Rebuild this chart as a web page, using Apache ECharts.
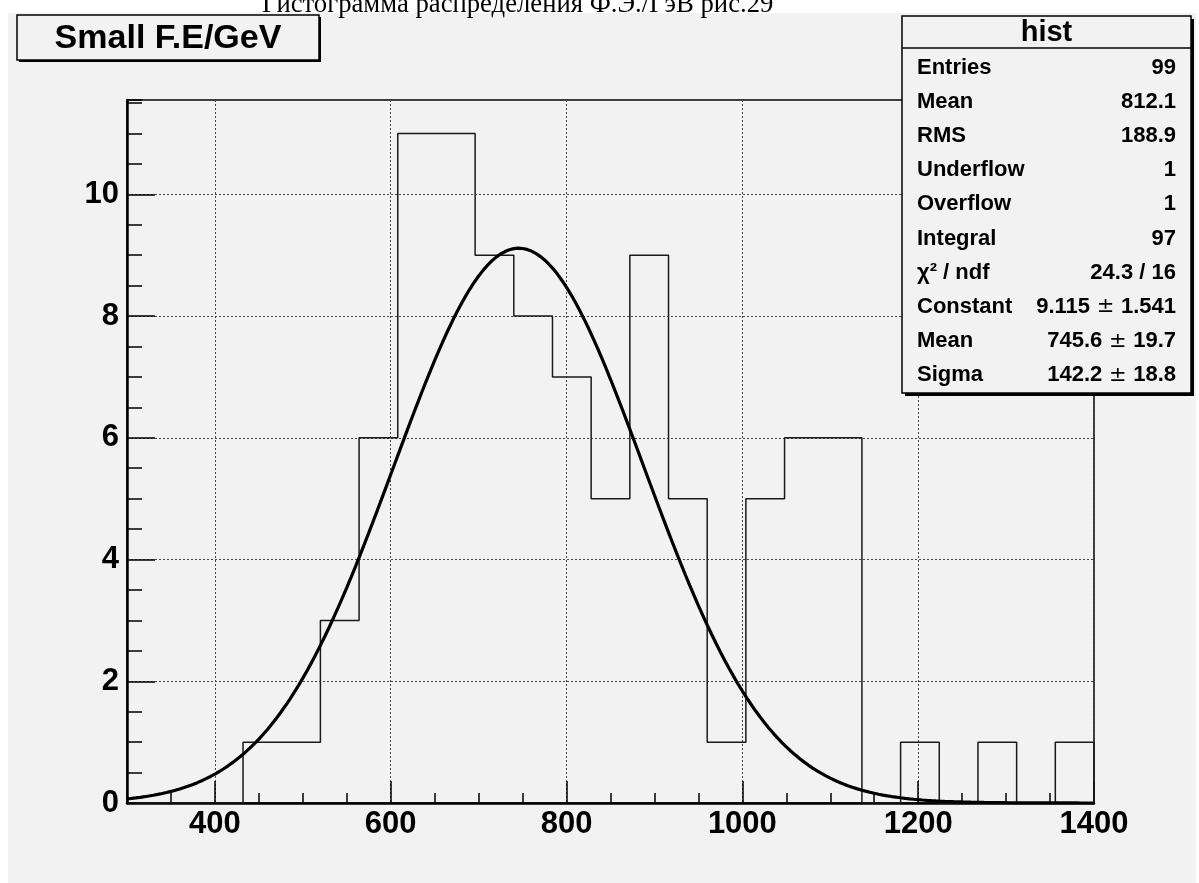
<!DOCTYPE html>
<html>
<head>
<meta charset="utf-8">
<script src="https://cdn.jsdelivr.net/npm/echarts@6/dist/echarts.min.js"></script>
<style>
  html, body { margin: 0; padding: 0; background: #ffffff; }
  #wrap { position: relative; width: 1199px; height: 883px; background: #ffffff; overflow: hidden; }
  #pad { position: absolute; left: 8px; top: 13px; width: 1188px; height: 870px; background: #f2f2f2; }
  #chart { position: absolute; left: 0; top: 0; width: 1199px; height: 883px; }
</style>
</head>
<body>
<div id="wrap">
  <div id="pad"></div>
  <div id="chart"></div>
</div>
<script>
// Histogram binning: 25 bins of width 44 over [300, 1400]
const binEdges = [300, 344, 388, 432, 476, 520, 564, 608, 652, 696, 740, 784, 828, 872,
                  916, 960, 1004, 1048, 1092, 1136, 1180, 1224, 1268, 1312, 1356, 1400];
const binCounts = [0, 0, 0, 1, 1, 3, 6, 11, 11, 9, 8, 7, 5, 9, 5, 1, 5, 6, 6, 0, 1, 0, 1, 0, 1];

// Gaussian fit parameters
const fitConstant = 9.115;
const fitMean = 745.6;
const fitSigma = 142.2;

// Axis ticks and labels
const xMajorTicks = [400, 600, 800, 1000, 1200, 1400];
const xRange = [300, 1400];
const yRange = [0, 11.55];

// Texts
const pageTitle = 'Гистограмма распределения Ф.Э./ГэВ рис.29';
const histTitle = 'Small F.E/GeV';
const statsName = 'hist';
const statLabels = ['Entries', 'Mean', 'RMS', 'Underflow', 'Overflow', 'Integral',
                    'χ² / ndf', 'Constant', 'Mean', 'Sigma'];
const statValues = ['99', '812.1', '188.9', '1', '1', '97',
                    '24.3 / 16', ['9.115', '1.541'], ['745.6', '19.7'], ['142.2', '18.8']];

// Step outline of the histogram
const histOutline = [[binEdges[0], 0]];
for (let i = 0; i < binCounts.length; i++) {
  histOutline.push([binEdges[i], binCounts[i]]);
  histOutline.push([binEdges[i + 1], binCounts[i]]);
}
histOutline.push([binEdges[binEdges.length - 1], 0]);

// Fitted gaussian curve sampled across the histogram range
const fitCurve = [];
const nSamples = 220;
for (let k = 0; k <= nSamples; k++) {
  const x = xRange[0] + (xRange[1] - xRange[0]) * k / nSamples;
  const z = (x - fitMean) / fitSigma;
  fitCurve.push([x, fitConstant * Math.exp(-0.5 * z * z)]);
}

const chart = echarts.init(document.getElementById('chart'), null, { renderer: 'canvas' });

const labelFont = 'Liberation Sans';
const boxFill = '#f2f2f2';
const TOP_Z = 200;

// Shared rich styles so labels and values sit on the same line
const statRich = {
  l: { font: 'bold 22px "' + labelFont + '"', fill: '#000', lineHeight: 26 },
  v: { font: 'bold 22px "' + labelFont + '"', fill: '#000', lineHeight: 26 },
  pm: { font: '21px "DejaVu Sans"', fill: '#000', lineHeight: 26 }
};

// Statistics box elements
const sbX = 902, sbY = 16, sbW = 289, sbH = 377, sbHead = 32;
const statElems = [
  { type: 'rect', z: TOP_Z, shape: { x: sbX + 3, y: sbY + 3, width: sbW, height: sbH }, style: { fill: '#000' } },
  { type: 'rect', z: TOP_Z + 1, shape: { x: sbX, y: sbY, width: sbW, height: sbH }, style: { fill: boxFill, stroke: '#000', lineWidth: 1.5 } },
  { type: 'line', z: TOP_Z + 2, shape: { x1: sbX, y1: sbY + sbHead, x2: sbX + sbW, y2: sbY + sbHead }, style: { stroke: '#000', lineWidth: 1.5 } },
  { type: 'text', z: TOP_Z + 2, style: { x: sbX + sbW / 2, y: sbY + sbHead / 2 + 1, text: statsName, align: 'center', verticalAlign: 'middle',
      font: 'bold 29px "' + labelFont + '"', fill: '#000' } }
];
const rowY0 = 67.5, rowStep = 34.2;
statLabels.forEach(function (lab, i) {
  const y = rowY0 + i * rowStep;
  statElems.push({ type: 'text', z: TOP_Z + 2, style: { x: 917, y: y, text: '{l|' + lab + '}', align: 'left', verticalAlign: 'middle',
      rich: statRich } });
  const v = statValues[i];
  const txt = Array.isArray(v) ? '{v|' + v[0] + '}{pm| ± }{v|' + v[1] + '}' : '{v|' + v + '}';
  statElems.push({ type: 'text', z: TOP_Z + 2, style: { x: 1176, y: y, text: txt, align: 'right', verticalAlign: 'middle',
      rich: statRich } });
});

const plainNumber = function (v) { return String(v); };

const axisLabelStyle = {
  color: '#000', fontSize: 31, fontWeight: 'bold', fontFamily: labelFont
};

const option = {
  backgroundColor: 'transparent',
  animation: false,
  grid: {
    left: 127, right: 105, top: 100, bottom: 80,
    show: true, borderColor: '#000', borderWidth: 1.5, backgroundColor: 'transparent'
  },
  xAxis: [
    {
      type: 'value', min: xRange[0], max: xRange[1], position: 'bottom',
      axisLine: { show: true, onZero: false, lineStyle: { color: '#000', width: 2.5 } },
      axisTick: { show: true, inside: true, length: 22, customValues: xMajorTicks, lineStyle: { color: '#000', width: 1.5 } },
      axisLabel: Object.assign({ show: true, customValues: xMajorTicks, formatter: plainNumber, margin: 6 }, axisLabelStyle),
      splitLine: { show: true, lineStyle: { color: '#444', type: [2, 2], width: 1 } }
    },
    {
      type: 'value', min: xRange[0], max: xRange[1], interval: 50, position: 'bottom',
      axisLine: { show: false },
      axisTick: { show: true, inside: true, length: 10, lineStyle: { color: '#000', width: 1.5 } },
      axisLabel: { show: false },
      splitLine: { show: false }
    }
  ],
  yAxis: [
    {
      type: 'value', min: yRange[0], max: yRange[1], interval: 2, position: 'left',
      axisLine: { show: true, onZero: false, lineStyle: { color: '#000', width: 2.5 } },
      axisTick: { show: true, inside: true, length: 28, lineStyle: { color: '#000', width: 1.5 } },
      axisLabel: Object.assign({ show: true, showMaxLabel: false, formatter: plainNumber, margin: 8 }, axisLabelStyle),
      splitLine: { show: true, lineStyle: { color: '#444', type: [2, 2], width: 1 } }
    },
    {
      type: 'value', min: yRange[0], max: yRange[1], interval: 0.5, position: 'left',
      axisLine: { show: false },
      axisTick: { show: true, inside: true, length: 15, lineStyle: { color: '#000', width: 1.5 } },
      axisLabel: { show: false },
      splitLine: { show: false }
    }
  ],
  series: [
    {
      name: 'hist', type: 'line', xAxisIndex: 0, yAxisIndex: 0,
      data: histOutline, symbol: 'none', silent: true,
      lineStyle: { color: '#1a1a1a', width: 1.5 }, z: 3
    },
    {
      name: 'gaus', type: 'line', xAxisIndex: 0, yAxisIndex: 0,
      data: fitCurve, symbol: 'none', smooth: false, silent: true,
      lineStyle: { color: '#000', width: 3.2 }, z: 4
    }
  ],
  graphic: [
    {
      type: 'text', z: TOP_Z,
      style: { x: 262, y: 18.5, text: pageTitle, align: 'left', verticalAlign: 'bottom',
        font: '26.7px "Liberation Serif"', fill: '#000' }
    },
    { type: 'rect', z: TOP_Z, shape: { x: 19, y: 17, width: 302, height: 45 }, style: { fill: '#000' } },
    { type: 'rect', z: TOP_Z + 1, shape: { x: 17, y: 15, width: 302, height: 45 }, style: { fill: boxFill, stroke: '#000', lineWidth: 1.5 } },
    {
      type: 'text', z: TOP_Z + 2,
      style: { x: 168, y: 38.5, text: histTitle, align: 'center', verticalAlign: 'middle',
        font: 'bold 34px "' + labelFont + '"', fill: '#000' }
    },
    { type: 'group', children: statElems }
  ]
};

chart.setOption(option);
</script>
</body>
</html>
